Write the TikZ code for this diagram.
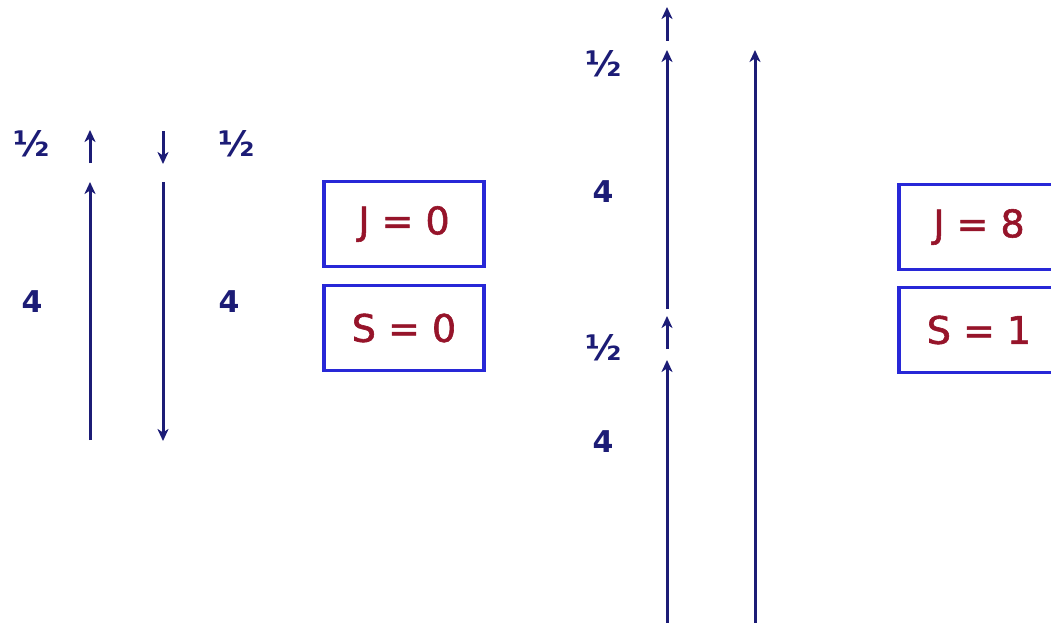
\documentclass[tikz,border=0pt]{standalone}
\usepackage{fontspec}
\setmainfont{DejaVu Sans}
\newfontfamily\boxfont[FakeBold=1.5]{DejaVu Sans}
\usetikzlibrary{arrows.meta}
\definecolor{navy}{RGB}{28,28,118}
\definecolor{boxblue}{RGB}{40,40,215}
\definecolor{boxred}{RGB}{150,20,42}
\tikzset{
  spin/.style={draw=navy, line width=3pt, -{Stealth[length=12pt,width=11pt,inset=3.5pt]}},
  lbl/.style={text=navy, font=\fontsize{30}{34}\selectfont\bfseries, inner sep=0pt},
  half/.style={text=navy, font=\fontsize{35}{38}\selectfont\bfseries, inner sep=0pt},
  qbox/.style={draw=boxblue, line width=3.4pt, minimum width=160pt, minimum height=85pt,
    text=boxred, font=\boxfont\fontsize{38}{42}\selectfont, inner sep=0pt},
}
\begin{document}
\begin{tikzpicture}[x=1pt,y=-1pt]
\useasboundingbox[fill=white] (0,0) rectangle (1051,623);
% left diagram
\coordinate (a1s) at (90,163); \coordinate (a1e) at (90,130);
\coordinate (b1s) at (163,131); \coordinate (b1e) at (163,164);
\coordinate (a2s) at (90,440); \coordinate (a2e) at (90,182);
\coordinate (b2s) at (163,182); \coordinate (b2e) at (163,441);
\draw[spin] (a1s) -- (a1e);
\draw[spin] (b1s) -- (b1e);
\draw[spin] (a2s) -- (a2e);
\draw[spin] (b2s) -- (b2e);
\node[half] (h1) at (32,144) {½};
\node[half] (h2) at (237,144) {½};
\node[lbl] (f1) at (32,302) {4};
\node[lbl] (f2) at (229,302) {4};
\node[qbox] (J0) at (404,224) {J = 0};
\node[qbox] (S0) at (404,328) {S = 0};
% right diagram
\coordinate (c1s) at (667,41); \coordinate (c1e) at (667,7);
\coordinate (c2s) at (667,309); \coordinate (c2e) at (667,50);
\coordinate (c3s) at (667,349); \coordinate (c3e) at (667,316);
\coordinate (c4s) at (667,623); \coordinate (c4e) at (667,360);
\coordinate (d1s) at (755,623); \coordinate (d1e) at (755,50);
\draw[spin] (c1s) -- (c1e);
\draw[spin] (c2s) -- (c2e);
\draw[spin] (c3s) -- (c3e);
\draw[spin] (c4s) -- (c4e);
\draw[spin] (d1s) -- (d1e);
\node[half] (h3) at (604,64) {½};
\node[lbl] (f3) at (603,192) {4};
\node[half] (h4) at (604,348) {½};
\node[lbl] (f4) at (603,442) {4};
\node[qbox] (J8) at (979,227) {J = 8};
\node[qbox] (S1) at (979,330) {S = 1};
\end{tikzpicture}
\end{document}
